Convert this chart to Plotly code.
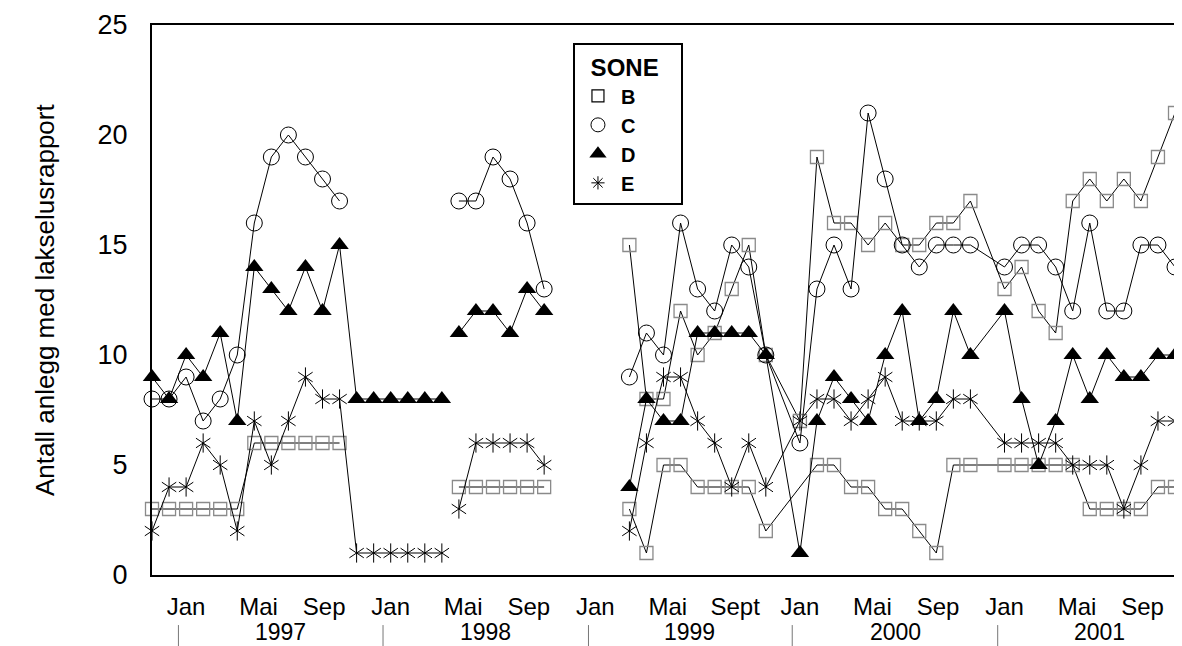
import plotly.graph_objects as go

N = None

# month index: 0 = Nov 1996 ... 60 = Nov 2001
months = list(range(61))

# Zone B (grey squares, shown in legend)
sone_b = [3, 3, 3, 3, 3, 3, 6, 6, 6, 6, 6, 6,
          N, N, N, N, N, N,
          4, 4, 4, 4, 4, 4,
          N, N, N, N,
          3, 1, 5, 5, 4, 4, 4, 4, 2, N,
          N, 5, 5, 4, 4, 3, 3, 2, 1, 5, 5, N,
          5, 5, 5, 5, 5, 3, 3, 3, 3, 4, 4]

# second square series (1999-2001)
sone_b2 = [N] * 28 + [15, 8, 8, 12, 10, 11, 13, 15, 10, N,
                      7, 19, 16, 16, 15, 16, 15, 15, 16, 16, 17, N,
                      13, 14, 12, 11, 17, 18, 17, 18, 17, 19, 21]

sone_c = [8, 8, 9, 7, 8, 10, 16, 19, 20, 19, 18, 17,
          N, N, N, N, N, N,
          17, 17, 19, 18, 16, 13,
          N, N, N, N,
          9, 11, 10, 16, 13, 12, 15, 14, 10, N,
          6, 13, 15, 13, 21, 18, 15, 14, 15, 15, 15, N,
          14, 15, 15, 14, 12, 16, 12, 12, 15, 15, 14]

sone_d = [9, 8, 10, 9, 11, 7, 14, 13, 12, 14, 12, 15,
          8, 8, 8, 8, 8, 8,
          11, 12, 12, 11, 13, 12,
          N, N, N, N,
          4, 8, 7, 7, 11, 11, 11, 11, 10, N,
          1, 7, 9, 8, 7, 10, 12, 7, 8, 12, 10, N,
          12, 8, 5, 7, 10, 8, 10, 9, 9, 10, 10]

sone_e = [2, 4, 4, 6, 5, 2, 7, 5, 7, 9, 8, 8,
          1, 1, 1, 1, 1, 1,
          3, 6, 6, 6, 6, 5,
          N, N, N, N,
          2, 6, 9, 9, 7, 6, 4, 6, 4, N,
          7, 8, 8, 7, 8, 9, 7, 7, 7, 8, 8, N,
          6, 6, 6, 6, 5, 5, 5, 3, 5, 7, 7]

# separate reporting periods (lines are not drawn across them)
periods = [(0, 17), (18, 23), (28, 60)]

tick_pos = [2, 6.25, 10.1, 14, 18.25, 22.1, 26, 30.25, 34.2, 38, 42.25, 46.1, 50, 54.25, 58.1]
tick_text = ["Jan", "Mai", "Sep", "Jan", "Mai", "Sep", "Jan", "Mai", "Sept",
             "Jan", "Mai", "Sep", "Jan", "Mai", "Sep"]
years = ["1997", "1998", "1999", "2000", "2001"]
year_pos = [7.55, 19.55, 31.55, 43.6, 55.6]
year_sep = [1.55, 13.55, 25.6, 37.55, 49.6]

GREY = "#8a8a8a"
series = [
    ("B", sone_b, dict(symbol="square-open", size=13, color=GREY, line=dict(width=1.3, color=GREY))),
    ("B2", sone_b2, dict(symbol="square-open", size=13, color=GREY, line=dict(width=1.3, color=GREY))),
    ("C", sone_c, dict(symbol="circle-open", size=16, color="black", line=dict(width=1))),
    ("D", sone_d, dict(symbol="triangle-up", size=16, color="black")),
    ("E", sone_e, dict(symbol="y-up-open", size=12, color="black", line=dict(width=1, color="black"))),
]

fig = go.Figure()

for name, vals, marker in series:
    for a, b in periods:
        xs = months[a:b + 1]
        ys = vals[a:b + 1]
        if all(v is None for v in ys):
            continue
        fig.add_trace(go.Scatter(
            x=xs, y=ys, mode="lines+markers", connectgaps=True,
            line=dict(color="black", width=1), marker=marker,
            showlegend=False, cliponaxis=False, hoverinfo="skip",
        ))
        if name == "E":
            # second half of the six-armed star
            fig.add_trace(go.Scatter(
                x=xs, y=ys, mode="markers",
                marker=dict(symbol="y-down-open", size=12, color="black",
                            line=dict(width=1, color="black")),
                showlegend=False, cliponaxis=False, hoverinfo="skip",
            ))

# legend-only entries
legend_markers = [
    ("B", dict(symbol="square-open", size=12, color="black", line=dict(width=1.2))),
    ("C", dict(symbol="circle-open", size=14, color="black", line=dict(width=1))),
    ("D", dict(symbol="triangle-up", size=15, color="black")),
    ("E", dict(symbol="asterisk-open", size=11, color="black", line=dict(width=1))),
]
for name, marker in legend_markers:
    fig.add_trace(go.Scatter(x=[None], y=[None], mode="markers", name="<b>" + name + "</b>", marker=marker))

for yr, xp in zip(years, year_pos):
    fig.add_annotation(x=xp, y=-0.1036, xref="x", yref="paper", text=yr, showarrow=False,
                       font=dict(size=23, color="black"), yanchor="middle", borderpad=0)
for xs in year_sep:
    fig.add_shape(type="line", xref="x", yref="paper", x0=xs, x1=xs, y0=-0.091, y1=-0.16,
                  line=dict(color="#777777", width=1))

fig.add_annotation(x=-0.1039, y=0.5, xref="paper", yref="paper", text="Antall anlegg med lakselusrapport",
                   textangle=-90, showarrow=False, xanchor="center", yanchor="middle",
                   font=dict(size=26, color="black"))

# the page body adds an 8px offset, so the figure is 8px smaller than the window
fig.update_layout(
    width=1174, height=638,
    margin=dict(l=144, r=0, t=17, b=71),
    paper_bgcolor="white", plot_bgcolor="white",
    font=dict(family="Arial, Liberation Sans, sans-serif", color="black"),
    legend=dict(
        x=0.4087, y=0.967, xanchor="left", yanchor="top",
        bordercolor="black", borderwidth=2, bgcolor="white",
        title=dict(text="&nbsp;&nbsp;<b>SONE</b>&nbsp;&nbsp;&nbsp;", font=dict(size=24), side="top center"),
        font=dict(size=20), tracegroupgap=0, itemwidth=36,
    ),
    showlegend=True,
)

fig.update_xaxes(
    range=[0, 60.41], showgrid=False, zeroline=False,
    showline=True, linecolor="black", linewidth=2, mirror=True,
    tickvals=tick_pos, ticktext=tick_text, ticks="", ticklabelstandoff=9,
    tickfont=dict(size=24, color="black"),
)
fig.update_yaxes(
    range=[0, 25], showgrid=False, zeroline=False,
    showline=True, linecolor="black", linewidth=2,
    tickvals=[0, 5, 10, 15, 20, 25], ticks="", ticklabelstandoff=17,
    tickfont=dict(size=27, color="black"),
)

fig.write_html("out.html")
